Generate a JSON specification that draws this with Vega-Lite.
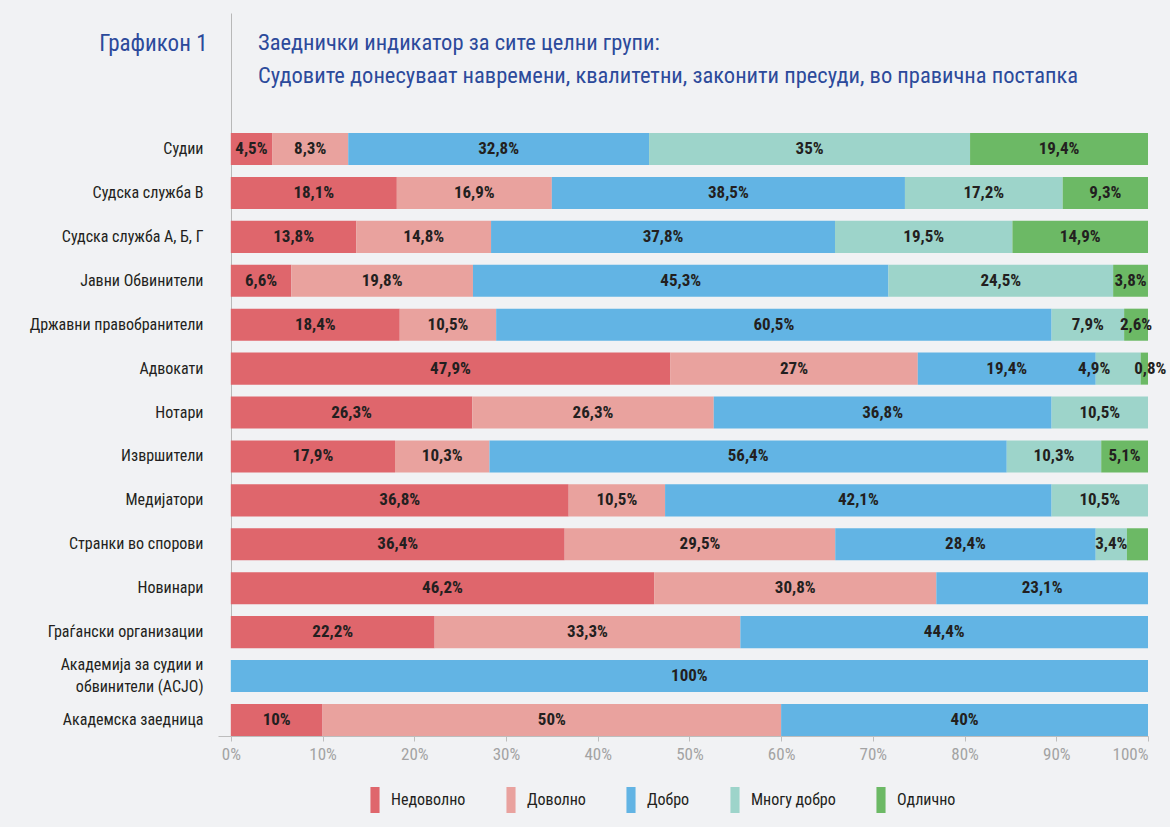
{
  "$schema": "https://vega.github.io/schema/vega-lite/v6.json",
  "autosize": {"type": "none"},
  "width": 930,
  "height": 723,
  "padding": {"left": 218, "top": 13, "right": 22, "bottom": 91},
  "background": "#f1f2f4",
  "title": {
    "text": ["Заеднички индикатор за сите целни групи:", "Судовите донесуваат навремени, квалитетни, законити пресуди, во правична постапка"],
    "orient": "top",
    "anchor": "start",
    "frame": "group",
    "offset": -74,
    "dx": 40,
    "fontSize": 22.5,
    "fontWeight": "normal",
    "lineHeight": 33,
    "color": "#2c4a9b"
  },
  "data": {
    "values": [
      {"g": "Судии", "c": "Недоволно", "v": 4.5, "label": "4,5%"},
      {"g": "Судии", "c": "Доволно", "v": 8.3, "label": "8,3%"},
      {"g": "Судии", "c": "Добро", "v": 32.8, "label": "32,8%"},
      {"g": "Судии", "c": "Многу добро", "v": 35, "label": "35%"},
      {"g": "Судии", "c": "Одлично", "v": 19.4, "label": "19,4%"},
      {"g": "Судска служба В", "c": "Недоволно", "v": 18.1, "label": "18,1%"},
      {"g": "Судска служба В", "c": "Доволно", "v": 16.9, "label": "16,9%"},
      {"g": "Судска служба В", "c": "Добро", "v": 38.5, "label": "38,5%"},
      {"g": "Судска служба В", "c": "Многу добро", "v": 17.2, "label": "17,2%"},
      {"g": "Судска служба В", "c": "Одлично", "v": 9.3, "label": "9,3%"},
      {"g": "Судска служба А, Б, Г", "c": "Недоволно", "v": 13.8, "label": "13,8%"},
      {"g": "Судска служба А, Б, Г", "c": "Доволно", "v": 14.8, "label": "14,8%"},
      {"g": "Судска служба А, Б, Г", "c": "Добро", "v": 37.8, "label": "37,8%"},
      {"g": "Судска служба А, Б, Г", "c": "Многу добро", "v": 19.5, "label": "19,5%"},
      {"g": "Судска служба А, Б, Г", "c": "Одлично", "v": 14.9, "label": "14,9%"},
      {"g": "Јавни Обвинители", "c": "Недоволно", "v": 6.6, "label": "6,6%"},
      {"g": "Јавни Обвинители", "c": "Доволно", "v": 19.8, "label": "19,8%"},
      {"g": "Јавни Обвинители", "c": "Добро", "v": 45.3, "label": "45,3%"},
      {"g": "Јавни Обвинители", "c": "Многу добро", "v": 24.5, "label": "24,5%"},
      {"g": "Јавни Обвинители", "c": "Одлично", "v": 3.8, "label": "3,8%"},
      {"g": "Државни правобранители", "c": "Недоволно", "v": 18.4, "label": "18,4%"},
      {"g": "Државни правобранители", "c": "Доволно", "v": 10.5, "label": "10,5%"},
      {"g": "Државни правобранители", "c": "Добро", "v": 60.5, "label": "60,5%"},
      {"g": "Државни правобранители", "c": "Многу добро", "v": 7.9, "label": "7,9%"},
      {"g": "Државни правобранители", "c": "Одлично", "v": 2.6, "label": "2,6%"},
      {"g": "Адвокати", "c": "Недоволно", "v": 47.9, "label": "47,9%"},
      {"g": "Адвокати", "c": "Доволно", "v": 27, "label": "27%"},
      {"g": "Адвокати", "c": "Добро", "v": 19.4, "label": "19,4%"},
      {"g": "Адвокати", "c": "Многу добро", "v": 4.9, "label": "4,9%"},
      {"g": "Адвокати", "c": "Одлично", "v": 0.8, "label": "0,8%"},
      {"g": "Нотари", "c": "Недоволно", "v": 26.3, "label": "26,3%"},
      {"g": "Нотари", "c": "Доволно", "v": 26.3, "label": "26,3%"},
      {"g": "Нотари", "c": "Добро", "v": 36.8, "label": "36,8%"},
      {"g": "Нотари", "c": "Многу добро", "v": 10.5, "label": "10,5%"},
      {"g": "Извршители", "c": "Недоволно", "v": 17.9, "label": "17,9%"},
      {"g": "Извршители", "c": "Доволно", "v": 10.3, "label": "10,3%"},
      {"g": "Извршители", "c": "Добро", "v": 56.4, "label": "56,4%"},
      {"g": "Извршители", "c": "Многу добро", "v": 10.3, "label": "10,3%"},
      {"g": "Извршители", "c": "Одлично", "v": 5.1, "label": "5,1%"},
      {"g": "Медијатори", "c": "Недоволно", "v": 36.8, "label": "36,8%"},
      {"g": "Медијатори", "c": "Доволно", "v": 10.5, "label": "10,5%"},
      {"g": "Медијатори", "c": "Добро", "v": 42.1, "label": "42,1%"},
      {"g": "Медијатори", "c": "Многу добро", "v": 10.5, "label": "10,5%"},
      {"g": "Странки во спорови", "c": "Недоволно", "v": 36.4, "label": "36,4%"},
      {"g": "Странки во спорови", "c": "Доволно", "v": 29.5, "label": "29,5%"},
      {"g": "Странки во спорови", "c": "Добро", "v": 28.4, "label": "28,4%"},
      {"g": "Странки во спорови", "c": "Многу добро", "v": 3.4, "label": "3,4%"},
      {"g": "Странки во спорови", "c": "Одлично", "v": 2.3, "label": ""},
      {"g": "Новинари", "c": "Недоволно", "v": 46.2, "label": "46,2%"},
      {"g": "Новинари", "c": "Доволно", "v": 30.8, "label": "30,8%"},
      {"g": "Новинари", "c": "Добро", "v": 23.1, "label": "23,1%"},
      {"g": "Граѓански организации", "c": "Недоволно", "v": 22.2, "label": "22,2%"},
      {"g": "Граѓански организации", "c": "Доволно", "v": 33.3, "label": "33,3%"},
      {"g": "Граѓански организации", "c": "Добро", "v": 44.4, "label": "44,4%"},
      {"g": "Академија за судии и обвинители (ACJO)", "c": "Добро", "v": 100, "label": "100%"},
      {"g": "Академска заедница", "c": "Недоволно", "v": 10, "label": "10%"},
      {"g": "Академска заедница", "c": "Доволно", "v": 50, "label": "50%"},
      {"g": "Академска заедница", "c": "Добро", "v": 40, "label": "40%"}
    ]
  },
  "transform": [
    {"calculate": "indexof(['Недоволно','Доволно','Добро','Многу добро','Одлично'], datum.c)", "as": "k"}
  ],
  "encoding": {
    "y": {
      "field": "g",
      "type": "nominal",
      "sort": null,
      "title": "Графикон 1",
      "scale": {"range": [120, 723], "paddingInner": 0.27, "paddingOuter": 0},
      "axis": {
        "domain": false,
        "ticks": false,
        "labelPadding": 15,
        "labelFontSize": 16,
        "labelColor": "#231f20",
        "labelLineHeight": 22,
        "labelLimit": 300,
        "labelOffset": {"condition": {"test": "datum.value == 'Академија за судии и обвинители (ACJO)'", "value": -11}, "value": 0},
        "labelExpr": "datum.label == 'Академија за судии и обвинители (ACJO)' ? ['Академија за судии и', 'обвинители (ACJO)'] : datum.label",
        "titleAngle": 0,
        "titleAlign": "right",
        "titleBaseline": "alphabetic",
        "titleX": -11,
        "titleY": 37,
        "titleFontSize": 23,
        "titleFontWeight": "normal",
        "titleColor": "#2c4a9b"
      }
    }
  },
  "layer": [
    {
      "mark": {"type": "bar"},
      "encoding": {
        "x": {
          "field": "v",
          "type": "quantitative",
          "stack": "normalize",
          "scale": {"domain": [-0.01398, 1], "nice": false, "zero": false},
          "axis": {
            "title": null,
            "values": [0, 0.1, 0.2, 0.3, 0.4, 0.5, 0.6, 0.7, 0.8, 0.9, 1],
            "format": ".0%",
            "domainColor": "#bdbdbd",
            "tickColor": "#bdbdbd",
            "tickSize": 5,
            "labelColor": "#a3a3a3",
            "labelFontSize": 17,
            "labelPadding": 5,
            "grid": true,
            "gridColor": "#b8b8b8",
            "gridOpacity": {"condition": {"test": "datum.value === 0", "value": 1}, "value": 0}
          }
        },
        "color": {
          "field": "c",
          "type": "nominal",
          "scale": {
            "domain": ["Недоволно", "Доволно", "Добро", "Многу добро", "Одлично"],
            "range": ["#df666c", "#e9a29e", "#62b4e4", "#9dd4ca", "#6cb965"]
          },
          "legend": {
            "orient": "none",
            "legendX": 144,
            "legendY": 774,
            "direction": "horizontal",
            "title": null,
            "symbolType": "M-0.35,-1H0.35V1H-0.35Z",
            "symbolSize": 676,
            "symbolStrokeWidth": 0,
            "labelFontSize": 16,
            "labelOffset": 3,
            "columnPadding": 32,
            "labelColor": "#231f20"
          }
        },
        "order": {"field": "k", "type": "quantitative"}
      }
    },
    {
      "mark": {"type": "text", "fontWeight": "bold", "fontSize": 17, "color": "#231f20", "baseline": "middle", "align": "center"},
      "encoding": {
        "x": {"field": "v", "type": "quantitative", "stack": "normalize", "bandPosition": 0.5},
        "text": {"condition": {"test": "datum.g == 'Адвокати' && datum.k >= 3", "value": ""}, "field": "label"},
        "order": {"field": "k", "type": "quantitative"}
      }
    },
    {
      "mark": {"type": "text", "fontWeight": "bold", "fontSize": 17, "color": "#231f20", "baseline": "middle", "align": "center", "dx": -24},
      "encoding": {
        "x": {"field": "v", "type": "quantitative", "stack": "normalize", "bandPosition": 0.5},
        "text": {"condition": {"test": "datum.g == 'Адвокати' && datum.k == 3", "field": "label"}, "value": ""},
        "order": {"field": "k", "type": "quantitative"}
      }
    },
    {
      "mark": {"type": "text", "fontWeight": "bold", "fontSize": 17, "color": "#231f20", "baseline": "middle", "align": "center", "dx": 6},
      "encoding": {
        "x": {"field": "v", "type": "quantitative", "stack": "normalize", "bandPosition": 0.5},
        "text": {"condition": {"test": "datum.g == 'Адвокати' && datum.k == 4", "field": "label"}, "value": ""},
        "order": {"field": "k", "type": "quantitative"}
      }
    }
  ],
  "config": {
    "view": {"stroke": null},
    "font": "Roboto Condensed, DejaVu Sans Condensed, sans-serif"
  }
}
